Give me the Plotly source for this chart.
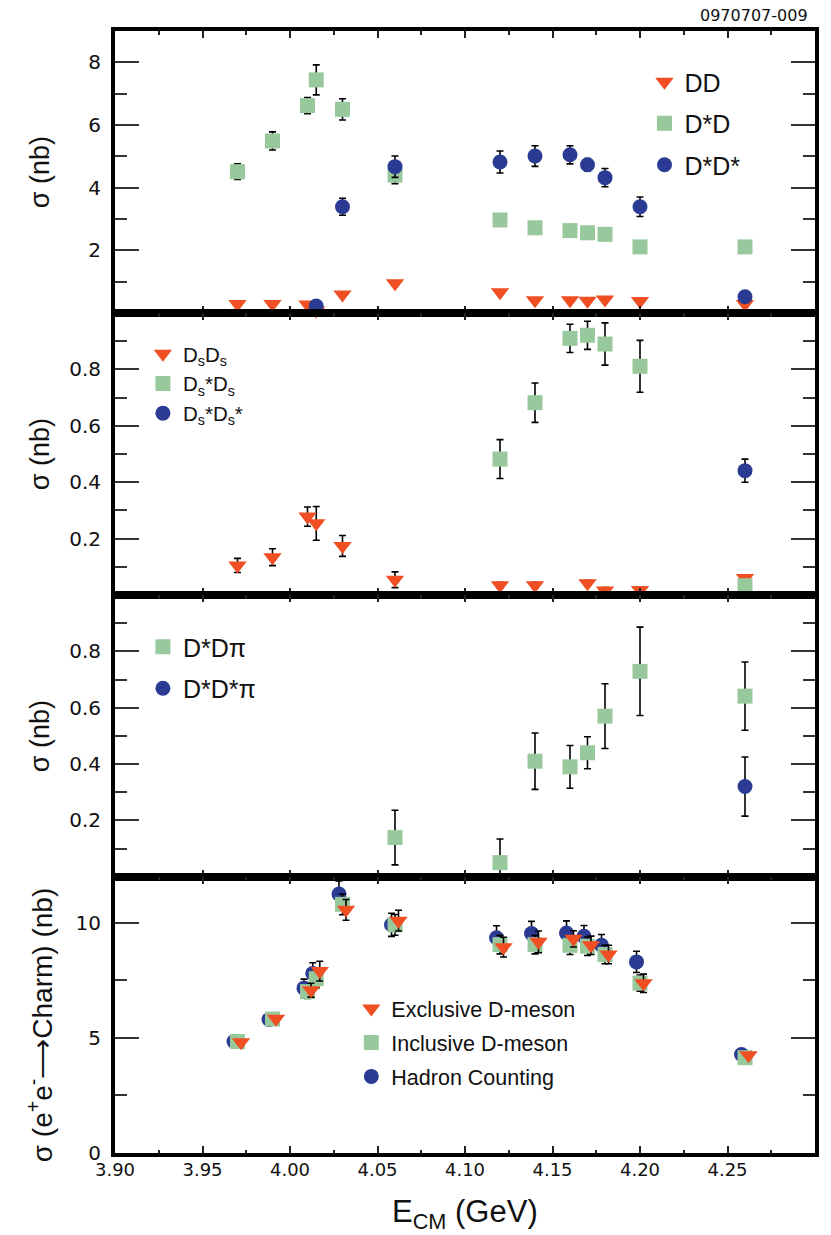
import plotly.graph_objects as go

# ---------------- data ----------------
E = [3.970, 3.990, 4.010, 4.015, 4.030, 4.060, 4.120, 4.140, 4.160, 4.170, 4.180, 4.200, 4.260]

# panel 1
dd_val = [0.29, 0.29, 0.27, 0.08, 0.59, 0.95, 0.66, 0.41, 0.41, 0.39, 0.43, 0.38, 0.29]
dd_err = [0.05, 0.05, 0.05, 0.05, 0.06, 0.08, 0.06, 0.05, 0.05, 0.05, 0.05, 0.05, 0.05]
dsd_val = [4.51, 5.49, 6.62, 7.44, 6.50, 4.40, 2.97, 2.72, 2.63, 2.56, 2.51, 2.11, 2.11]
dsd_err = [0.25, 0.29, 0.26, 0.48, 0.34, 0.27, 0.15, 0.12, 0.12, 0.12, 0.12, 0.10, 0.12]
dsds_E = [4.015, 4.030, 4.060, 4.120, 4.140, 4.160, 4.170, 4.180, 4.200, 4.260]
dsds_val = [0.22, 3.39, 4.67, 4.82, 5.01, 5.05, 4.73, 4.32, 3.39, 0.52]
dsds_err = [0.05, 0.27, 0.34, 0.35, 0.33, 0.29, 0.20, 0.29, 0.31, 0.10]

# panel 2
DsDs_E = [3.970, 3.990, 4.010, 4.015, 4.030, 4.060, 4.120, 4.140, 4.170, 4.180, 4.200, 4.260]
DsDs_val = [0.105, 0.134, 0.278, 0.254, 0.174, 0.054, 0.035, 0.035, 0.042, 0.016, 0.018, 0.060]
DsDs_err = [0.025, 0.030, 0.034, 0.060, 0.037, 0.028, 0.010, 0.010, 0.010, 0.010, 0.010, 0.010]
DssDs_E = [4.120, 4.140, 4.160, 4.170, 4.180, 4.200, 4.260]
DssDs_val = [0.482, 0.682, 0.910, 0.921, 0.890, 0.811, 0.033]
DssDs_err = [0.069, 0.070, 0.050, 0.050, 0.075, 0.092, 0.010]
DssDss_E = [4.260]
DssDss_val = [0.441]
DssDss_err = [0.041]

# panel 3
dsdpi_E = [4.060, 4.120, 4.140, 4.160, 4.170, 4.180, 4.200, 4.260]
dsdpi_val = [0.139, 0.050, 0.410, 0.390, 0.440, 0.570, 0.729, 0.641]
dsdpi_errp = [0.097, 0.084, 0.100, 0.076, 0.057, 0.115, 0.157, 0.121]
dsdpi_errm = [0.097, 0.050, 0.100, 0.076, 0.057, 0.115, 0.157, 0.121]
dsdspi_E = [4.260]
dsdspi_val = [0.320]
dsdspi_err = [0.105]

# panel 4
E_hadron = [3.968, 3.988, 4.008, 4.013, 4.028, 4.058, 4.118, 4.138, 4.158, 4.168, 4.178, 4.198, 4.258]
E_excl = [3.972, 3.992, 4.012, 4.017, 4.032, 4.062, 4.122, 4.142, 4.162, 4.172, 4.182, 4.202, 4.262]
hadron_val = [4.84, 5.80, 7.16, 7.80, 11.25, 9.91, 9.35, 9.53, 9.55, 9.41, 9.02, 8.30, 4.28]
hadron_err = [0.10, 0.10, 0.39, 0.46, 0.56, 0.50, 0.52, 0.53, 0.53, 0.47, 0.47, 0.46, 0.10]
incl_val = [4.84, 5.82, 7.01, 7.57, 10.80, 9.91, 9.05, 9.05, 9.02, 8.98, 8.62, 7.38, 4.14]
incl_err = [0.10, 0.10, 0.30, 0.40, 0.45, 0.45, 0.40, 0.40, 0.40, 0.40, 0.40, 0.35, 0.10]
excl_val = [4.81, 5.83, 7.07, 7.90, 10.56, 10.09, 8.94, 9.17, 9.30, 9.02, 8.62, 7.37, 4.24]
excl_err = [0.10, 0.10, 0.30, 0.43, 0.45, 0.45, 0.43, 0.47, 0.35, 0.40, 0.40, 0.40, 0.10]

x_major = [3.90, 3.95, 4.00, 4.05, 4.10, 4.15, 4.20, 4.25]
x_labels = ["3.90", "3.95", "4.00", "4.05", "4.10", "4.15", "4.20", "4.25"]
x_minor = [3.925, 3.975, 4.025, 4.075, 4.125, 4.175, 4.225, 4.275]

# ---------------- styles ----------------
RED = "#F04E23"
GREEN = "#98C99C"
BLUE = "#2B3A92"
TXT = "Liberation Sans, Arial, sans-serif"
NUMF = "DejaVu Sans, Verdana, sans-serif"

# page body has an 8px margin -> figure is 8px smaller, positions given in page pixels
W, H = 823, 1227
ML, MT = 107, 23
PW, PH = 702, 1122
MR, MB = W - ML - PW, H - MT - PH


def px_x(px):
    return (px - 115) / PW


def px_y(py):
    return (1153 - py) / PH


bounds = [31, 313, 595, 876.7, 1153]
domains = [[px_y(bounds[i + 1]), px_y(bounds[i])] for i in range(4)]
domains[0][1] = 1.0
domains[3][0] = 0.0

fig = go.Figure()


def add(p, x, y, sym, color, name, leg, errp, errm=None, size=15, rank=None):
    xa = "x" if p == 1 else f"x{p}"
    ya = "y" if p == 1 else f"y{p}"
    err = dict(type="data", array=errp, color="black", thickness=1.6, width=3.5, visible=True)
    if errm is not None:
        err["symmetric"] = False
        err["arrayminus"] = errm
    tr = go.Scatter(
        x=x, y=y, mode="markers", name=name, xaxis=xa, yaxis=ya,
        marker=dict(symbol=sym, color=color, size=size, line=dict(width=0)),
        error_y=err, legend=leg, legendgroup=name, cliponaxis=False,
    )
    if rank is not None:
        tr.legendrank = rank
    fig.add_trace(tr)


add(1, E, dd_val, "triangle-down", RED, "DD", "legend", dd_err, size=16)
add(1, E, dsd_val, "square", GREEN, "D*D", "legend", dsd_err)
add(1, dsds_E, dsds_val, "circle", BLUE, "D*D*", "legend", dsds_err)

add(2, DsDs_E, DsDs_val, "triangle-down", RED, "D<sub>s</sub>D<sub>s</sub>", "legend2", DsDs_err, size=16)
add(2, DssDs_E, DssDs_val, "square", GREEN, "D<sub>s</sub>*D<sub>s</sub>", "legend2", DssDs_err)
add(2, DssDss_E, DssDss_val, "circle", BLUE, "D<sub>s</sub>*D<sub>s</sub>*", "legend2", DssDss_err)

add(3, dsdpi_E, dsdpi_val, "square", GREEN, "D*Dπ", "legend3", dsdpi_errp, dsdpi_errm)
add(3, dsdspi_E, dsdspi_val, "circle", BLUE, "D*D*π", "legend3", dsdspi_err)

add(4, E_hadron, hadron_val, "circle", BLUE, "Hadron Counting", "legend4", hadron_err, rank=3)
add(4, E, incl_val, "square", GREEN, "Inclusive D-meson", "legend4", incl_err, rank=2)
add(4, E_excl, excl_val, "triangle-down", RED, "Exclusive D-meson", "legend4", excl_err, size=16, rank=1)

layout = dict(
    width=W, height=H, margin=dict(l=ML, r=MR, t=MT, b=MB),
    plot_bgcolor="white", paper_bgcolor="white", showlegend=True,
)

yconf = [
    dict(range=[0, 9], tickvals=[2, 4, 6, 8], ticktext=["2", "4", "6", "8"], minor=[1, 3, 5, 7]),
    dict(range=[0, 1], tickvals=[0.2, 0.4, 0.6, 0.8], ticktext=["0.2", "0.4", "0.6", "0.8"], minor=[0.1, 0.3, 0.5, 0.7, 0.9]),
    dict(range=[0, 1], tickvals=[0.2, 0.4, 0.6, 0.8], ticktext=["0.2", "0.4", "0.6", "0.8"], minor=[0.1, 0.3, 0.5, 0.7, 0.9]),
    dict(range=[0, 12], tickvals=[0, 5, 10], ticktext=["0", "5", "10"], minor=[2.5, 7.5]),
]

for p in range(1, 5):
    xk = "xaxis" if p == 1 else f"xaxis{p}"
    yk = "yaxis" if p == 1 else f"yaxis{p}"
    ya = "y" if p == 1 else f"y{p}"
    xa = "x" if p == 1 else f"x{p}"
    layout[xk] = dict(
        range=[3.90, 4.30], anchor=ya, domain=[0, 1],
        showline=True, linewidth=4, linecolor="black", mirror="allticks",
        ticks="inside", ticklen=7, tickwidth=1.5, tickcolor="#222",
        tickmode="array", tickvals=x_major, ticktext=x_labels,
        showticklabels=(p == 4), showgrid=False, zeroline=False,
        tickfont=dict(family=NUMF, size=18, color="#111"), ticklabelstandoff=-3,
        minor=dict(tickmode="array", tickvals=x_minor, ticks="inside", ticklen=3.5,
                   tickwidth=1.5, tickcolor="#222", showgrid=False),
    )
    if p != 4:
        layout[xk]["matches"] = "x4"
    c = yconf[p - 1]
    layout[yk] = dict(
        range=c["range"], anchor=xa, domain=domains[p - 1],
        showline=True, linewidth=4, linecolor="black", mirror="allticks",
        ticks="inside", ticklen=24, tickwidth=1.5, tickcolor="#333",
        tickmode="array", tickvals=c["tickvals"], ticktext=c["ticktext"],
        showgrid=False, zeroline=False, ticklabelstandoff=6,
        tickfont=dict(family=NUMF, size=20, color="#111"),
        minor=dict(tickmode="array", tickvals=c["minor"], ticks="inside", ticklen=12,
                   tickwidth=1.5, tickcolor="#333", showgrid=False),
    )

leg_common = dict(xanchor="left", yanchor="top", bgcolor="rgba(0,0,0,0)", borderwidth=0,
                  itemclick=False, itemdoubleclick=False)
layout["legend"] = dict(leg_common, x=px_x(646), y=px_y(59), tracegroupgap=6,
                        font=dict(family=TXT, size=25, color="#111"))
layout["legend2"] = dict(leg_common, x=px_x(143), y=px_y(334), tracegroupgap=0,
                         font=dict(family=TXT, size=20.5, color="#111"))
layout["legend3"] = dict(leg_common, x=px_x(143), y=px_y(624), tracegroupgap=6,
                         font=dict(family=TXT, size=25, color="#111"))
layout["legend4"] = dict(leg_common, x=px_x(352), y=px_y(988), tracegroupgap=3,
                         font=dict(family=TXT, size=21.5, color="#111"))

ann = []
ytitles = ["σ (nb)", "σ (nb)", "σ (nb)", "σ (e<sup>+</sup>e<sup>-</sup>⟶Charm) (nb)"]
ycent = [172, 454, 736, 1025]
ysz = [27, 27, 27, 28]
for t, cy, sz in zip(ytitles, ycent, ysz):
    ann.append(dict(text=t, x=px_x(40), y=px_y(cy), xref="paper", yref="paper",
                    showarrow=False, textangle=-90, xanchor="center", yanchor="middle",
                    font=dict(family=TXT, size=sz, color="#111")))
ann.append(dict(text="E<sub>CM</sub> (GeV)", x=px_x(466), y=px_y(1214), xref="paper", yref="paper",
                showarrow=False, xanchor="center", yanchor="middle",
                font=dict(family=TXT, size=31, color="#111")))
ann.append(dict(text="0970707-009", x=px_x(812), y=px_y(15), xref="paper", yref="paper",
                showarrow=False, xanchor="right", yanchor="middle",
                font=dict(family=NUMF, size=16, color="#111")))
layout["annotations"] = ann

fig.update_layout(**layout)
fig.write_html("out.html")
